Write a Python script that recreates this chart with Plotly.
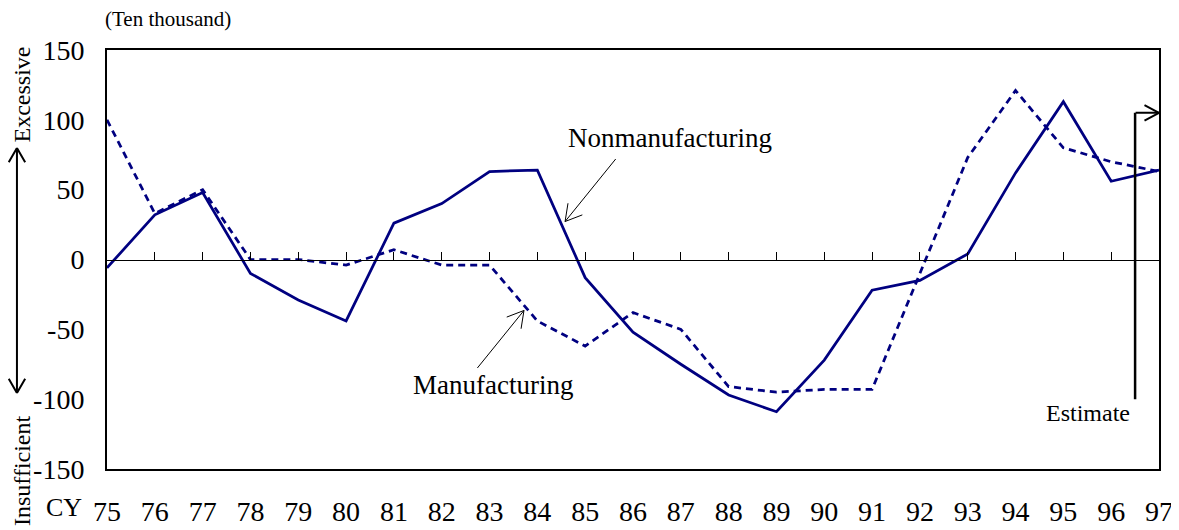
import math

import plotly.graph_objects as go

# ---------------------------------------------------------------------------
# Data (ten thousand persons; + excessive, - insufficient)
# ---------------------------------------------------------------------------
YEARS = list(range(75, 98))
YEAR_LABELS = [str(y) for y in YEARS]

NONMANUFACTURING = [-6, 32, 48, -10, -29, -44, 26, 40, 63, 64, -13, -52, -75, -97,
                    -109, -72, -22, -15, 4, 62, 113, 56, 64]
MANUFACTURING = [100, 33, 50, 0, 0, -4, 7, -4, -4, -44, -62, -38, -50, -91,
                 -95, -93, -93, -10, 73, 121, 80, 70, 63]

Y_TICKS = [150, 100, 50, 0, -50, -100, -150]
Y_TICK_LABELS = ["150", "100", "50", "0", "-50", "-100", "-150"]

ESTIMATE_FROM = 96.5     # start of the estimate period
ESTIMATE_TOP = 105
ESTIMATE_BOTTOM = -100

FONT = "Liberation Serif, Times New Roman, serif"
NAVY = "#000080"

PLOT_W = 1052            # plot area width in px
PX_PER_YEAR = PLOT_W / (YEARS[-1] - YEARS[0])

# ---------------------------------------------------------------------------
# Helpers
# ---------------------------------------------------------------------------
C = dict(xanchor="center", yanchor="middle")


def _seg(x, y, ax, ay, width, ref, **kw):
    # bare line annotation; tiny font so the empty label box does not eat the line
    return dict(x=x, y=y, ax=ax, ay=ay, text="", showarrow=True, arrowhead=0,
                arrowwidth=width, arrowcolor="black", font=dict(size=1),
                borderpad=0, standoff=0, startstandoff=0, **ref, **kw)


def arrow(x, y, ax, ay, width=1, head=17, angle=30, both=False, **ref):
    """Line from pixel offset (ax, ay) to (x, y) with open V heads."""
    out = [_seg(x, y, ax, ay, width, ref)]
    ends = [(0, 0, ax, ay)]
    if both:
        ends.append((ax, -ay, -ax, -ay))
    for sx, sy, dx, dy in ends:
        n = math.hypot(dx, dy)
        ux, uy = dx / n, dy / n
        for s in (1, -1):
            a = math.radians(angle * s)
            bx = head * (ux * math.cos(a) - uy * math.sin(a))
            by = head * (ux * math.sin(a) + uy * math.cos(a))
            out.append(_seg(x, y, bx, by, width, ref, xshift=sx, yshift=sy))
    return out


# ---------------------------------------------------------------------------
# Figure
# ---------------------------------------------------------------------------
fig = go.Figure()

fig.add_trace(go.Scatter(
    x=YEARS, y=NONMANUFACTURING, name="Nonmanufacturing", mode="lines",
    line=dict(color=NAVY, width=2.75),
))
fig.add_trace(go.Scatter(
    x=YEARS, y=MANUFACTURING, name="Manufacturing", mode="lines", xaxis="x2",
    line=dict(color=NAVY, width=2.75, dash="7px,5px"),
))

# estimate bar
fig.add_shape(type="line", x0=ESTIMATE_FROM, x1=ESTIMATE_FROM,
              y0=ESTIMATE_BOTTOM, y1=ESTIMATE_TOP,
              line=dict(color="black", width=2.5))

ann = []
# labels with arrows pointing at the lines
ann.append(dict(x=86.77, y=87.3, text="Nonmanufacturing", showarrow=False,
                font=dict(size=27), **C))
ann += arrow(84.58, 27.2, 51, -63, width=1, head=19)
ann.append(dict(x=83.07, y=-89.5, text="Manufacturing", showarrow=False,
                font=dict(size=27), **C))
ann += arrow(83.72, -36.5, -47, 58, width=1, head=19)

# estimate label and arrow
ann.append(dict(x=96.43, y=-110, text="Estimate", showarrow=False,
                xanchor="right", yanchor="middle", font=dict(size=24)))
ann += arrow(YEARS[-1], ESTIMATE_TOP,
             -(YEARS[-1] - ESTIMATE_FROM) * PX_PER_YEAR, 0, width=2, angle=28)

# outside texts (paper coords)
P = dict(xref="paper", yref="paper")
ann.append(dict(x=-0.0038, y=1.074, text="(Ten thousand)", showarrow=False,
                xanchor="left", yanchor="middle", font=dict(size=21), **P))
ann.append(dict(x=-0.0404, y=-0.0907, text="CY", showarrow=False,
                font=dict(size=26), **C, **P))
ann.append(dict(x=-0.0808, y=0.8938, text="Excessive", showarrow=False,
                textangle=-90, font=dict(size=24), **C, **P))
ann.append(dict(x=-0.0808, y=-0.0024, text="Insufficient", showarrow=False,
                textangle=-90, font=dict(size=24), **C, **P))
ann += arrow(-0.0856, 0.766, 0, 245, width=2, both=True, **P)

# page body has an 8px margin, so the figure is sized to the visible area
fig.update_layout(
    width=1171, height=522,
    margin=dict(l=99, r=20, t=42, b=61),
    paper_bgcolor="white", plot_bgcolor="white",
    font=dict(family=FONT, color="black", size=24),
    showlegend=False,
    annotations=ann,
    xaxis=dict(
        range=[75, 97], tickvals=YEARS, ticktext=YEAR_LABELS,
        showgrid=False, zeroline=False, ticks="", automargin=False,
        showline=True, mirror=True, linecolor="black", linewidth=2,
        tickfont=dict(size=28), ticklabelstandoff=16,
    ),
    # zero line carrying the year ticks
    xaxis2=dict(
        range=[75, 97], tickvals=YEARS, overlaying="x", anchor="free", position=0.5,
        showgrid=False, zeroline=False, showticklabels=False, automargin=False,
        ticks="inside", ticklen=8, tickwidth=1, tickcolor="black",
        showline=True, linecolor="black", linewidth=1,
    ),
    yaxis=dict(
        range=[-150, 150], tickvals=Y_TICKS, ticktext=Y_TICK_LABELS,
        showgrid=False, zeroline=False, ticks="", automargin=False,
        showline=True, mirror=True, linecolor="black", linewidth=2,
        tickfont=dict(size=28), ticklabelstandoff=15,
    ),
)

fig.write_html("out.html")
